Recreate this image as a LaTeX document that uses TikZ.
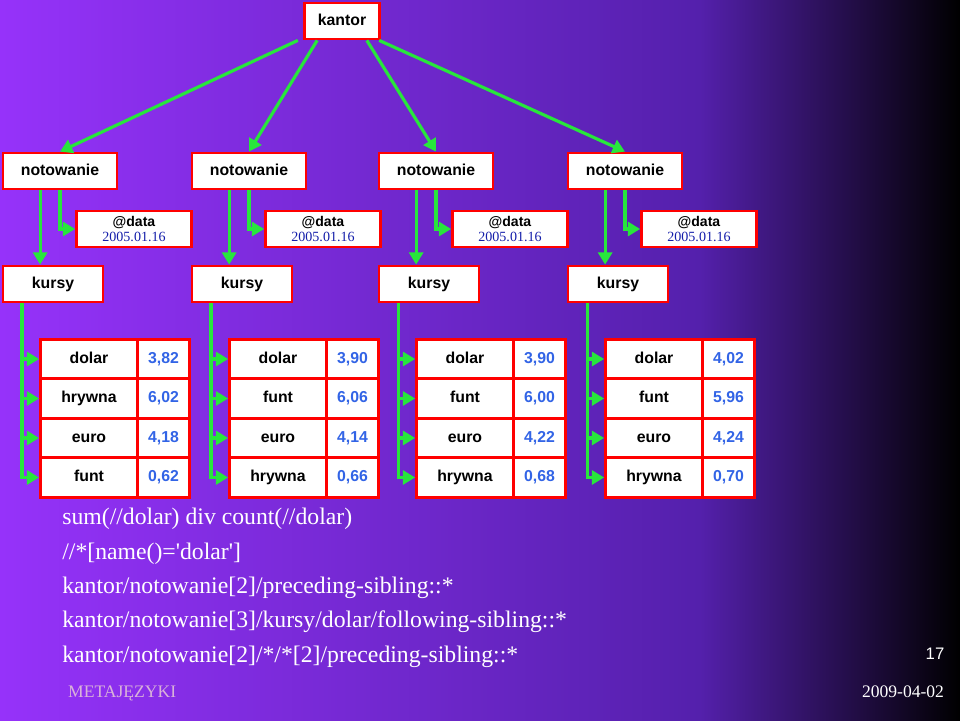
\documentclass[tikz,border=0pt]{standalone}
\usepackage{fontspec}
\setmainfont{Liberation Serif}
\newfontfamily\arial{Liberation Sans}
\usetikzlibrary{arrows.meta,positioning}

\definecolor{bgviolet}{RGB}{150,50,250}
\definecolor{bgnavy}{RGB}{40,20,120}
\definecolor{arrowgreen}{RGB}{40,230,60}
\definecolor{numblue}{RGB}{50,100,230}
\definecolor{dateblue}{RGB}{20,30,170}

\tikzset{
  elem/.style={draw=red, line width=1.6pt, fill=white, inner sep=0pt,
    font=\arial\bfseries\fontsize{9}{10}\selectfont, minimum height=0.72cm,
    text height=7pt, text depth=2pt},
  cell/.style={elem, minimum height=0.79cm},
  num/.style={cell, text=numblue},
  link/.style={draw=arrowgreen, line width=1.8pt, -{Triangle[length=7pt,width=8pt]}},
  xpath/.style={text=white, anchor=west, font=\fontsize{13.5}{15}\selectfont, inner sep=0pt}
}

\begin{document}
\begin{tikzpicture}[x=0.02cm,y=-0.02cm]
    % background
    \shade[left color=bgviolet, right color=bgviolet!40!bgnavy] (0,0) rectangle (700,720);
    \shade[left color=bgviolet!40!bgnavy, right color=black] (699.5,0) rectangle (960,720);
    \useasboundingbox (0,0) rectangle (960,720);

    % root
    \node[elem, minimum width=1.5cm] (kantor) at (342,21) {kantor};

    % columns
    \foreach \i/\x/\ra/\rb/\rc/\rd/\va/\vb/\vc/\vd in {
        1/0/dolar/hrywna/euro/funt/{3,82}/{6,02}/{4,18}/{0,62},
        2/189/dolar/funt/euro/hrywna/{3,90}/{6,06}/{4,14}/{0,66},
        3/376/dolar/funt/euro/hrywna/{3,90}/{6,00}/{4,22}/{0,68},
        4/565/dolar/funt/euro/hrywna/{4,02}/{5,96}/{4,24}/{0,70}} {
      \node[elem, minimum width=2.28cm] (not\i) at (60+\x,171) {notowanie};
      \node[elem, minimum width=2.3cm, font=\fontsize{8}{9}\selectfont, align=center,
        text height=, text depth=]
        (dat\i) at (134+\x,229) {{\arial\bfseries @data}\\[-1pt]\textcolor{dateblue}{2005.01.16}};
      \node[elem, minimum width=2cm] (kur\i) at (53+\x,284) {kursy};
      \node[cell, minimum width=1.94cm] (ka\i) at (89+\x,359) {\ra};
      \node[cell, minimum width=1.94cm, below=-1.6pt of ka\i] (kb\i) {\rb};
      \node[cell, minimum width=1.94cm, below=-1.6pt of kb\i] (kc\i) {\rc};
      \node[cell, minimum width=1.94cm, below=-1.6pt of kc\i] (kd\i) {\rd};
      \node[num, minimum width=1.04cm, right=-1.6pt of ka\i] (wa\i) {\va};
      \node[num, minimum width=1.04cm, right=-1.6pt of kb\i] (wb\i) {\vb};
      \node[num, minimum width=1.04cm, right=-1.6pt of kc\i] (wc\i) {\vc};
      \node[num, minimum width=1.04cm, right=-1.6pt of kd\i] (wd\i) {\vd};
      % connectors
      \draw[link] ([xshift=-11.3pt]not\i.south) -- ([xshift=-11.3pt]not\i.south |- kur\i.north);
      \draw[link] (not\i.south) |- (dat\i.west);
      \coordinate (trunk\i) at ([xshift=-17.6pt]kur\i.south);
      \foreach \r in {ka,kb,kc,kd} \draw[link] (trunk\i) |- (\r\i.west);
    }

    % root connectors
    \draw[link] ([xshift=-3pt]kantor.south west) -- (not1.north);
    \draw[link] ([xshift=8pt]kantor.south west) -- (not2.north);
    \draw[link] ([xshift=-8pt]kantor.south east) -- (not3.north);
    \draw[link] ([xshift=-1pt]kantor.south east) -- (not4.north);

    % queries
    \node[xpath] (q1) at (62,519) {sum(//dolar) div count(//dolar)};
    \node[xpath] (q2) at (62,554) {//*[name()=\textquotesingle dolar\textquotesingle]};
    \node[xpath] (q3) at (62,588) {kantor/notowanie[2]/preceding-sibling::*};
    \node[xpath] (q4) at (62,622) {kantor/notowanie[3]/kursy/dolar/following-sibling::*};
    \node[xpath] (q5) at (62,657) {kantor/notowanie[2]/*/*[2]/preceding-sibling::*};

    % footer
    \node[text=white, font=\arial\fontsize{9.5}{11}\selectfont] (page) at (935,654) {17};
    \node[text=violet!30!white, anchor=west, font=\fontsize{10}{12}\selectfont] (foot) at (62,693) {METAJĘZYKI};
    \node[text=white, font=\fontsize{10}{12}\selectfont] (date) at (903,692) {2009-04-02};
\end{tikzpicture}
\end{document}
